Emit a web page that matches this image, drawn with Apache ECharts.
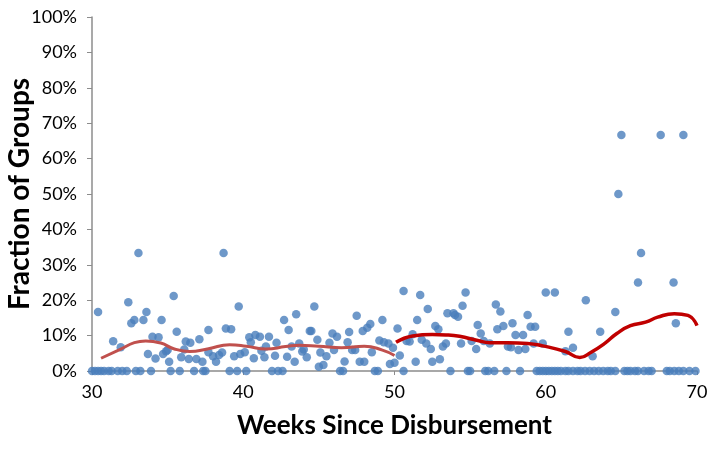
<!DOCTYPE html>
<html>
<head>
<meta charset="utf-8">
<script src="https://cdn.jsdelivr.net/npm/echarts@6/dist/echarts.min.js"></script>
<style>
  html, body { margin: 0; padding: 0; background: #fff; }
  #chart { width: 712px; height: 449px; }
</style>
</head>
<body>
<div id="chart"></div>
<script>
// Weeks since disbursement for groups with a non-zero fraction
const pointWeeks = [
  30.4, 31.4, 31.9, 32.4, 32.6, 32.8, 33.07, 33.4, 33.6, 33.7, 34.0, 34.2, 34.4, 34.6, 34.7, 34.9, 35.0, 35.1,
  35.4, 35.6, 35.9, 36.1, 36.2, 36.4, 36.5, 36.9, 37.1, 37.3, 37.7, 37.7, 38.0, 38.2, 38.4, 38.6, 38.7, 38.85,
  39.2, 39.4, 39.7, 39.8, 40.1, 40.4, 40.5, 40.7, 40.8, 41.1, 41.2, 41.4, 41.5, 41.7, 42.1, 42.2, 42.7, 42.9,
  43.0, 43.2, 43.4, 43.5, 43.7, 43.9, 44.0, 44.2, 44.4, 44.5, 44.7, 44.9, 45.0, 45.1, 45.3, 45.5, 45.7, 45.9,
  46.0, 46.2, 46.7, 46.9, 47.0, 47.2, 47.4, 47.5, 47.7, 47.9, 48.0, 48.2, 48.4, 48.5, 49.0, 49.2, 49.3, 49.6,
  49.7, 49.9, 50.0, 50.2, 50.35, 50.6, 50.8, 51.0, 51.2, 51.4, 51.5, 51.7, 51.8, 52.1, 52.2, 52.4, 52.5, 52.7,
  52.9, 53.0, 53.2, 53.4, 53.5, 53.9, 54.0, 54.2, 54.4, 54.5, 54.7, 55.1, 55.4, 55.5, 55.7, 55.9, 56.3, 56.7,
  56.8, 57.0, 57.2, 57.5, 57.7, 57.8, 58.0, 58.2, 58.5, 58.65, 58.8, 59.0, 59.2, 59.3, 59.8, 60.0, 60.6, 61.3,
  61.5, 61.8, 62.65, 63.1, 63.6, 64.6, 64.8, 65.0, 66.1, 66.3, 67.6, 68.45, 68.6, 69.1
];
// Fraction of groups (%) for each of the weeks above
const pointPct = [
  16.7, 8.4, 6.7, 19.4, 13.5, 14.4, 33.3, 14.4, 16.7, 4.8, 9.7, 3.5, 9.5, 14.4, 4.8, 5.6, 5.9, 2.6,
  21.2, 11.1, 3.9, 6.1, 8.3, 3.4, 8.0, 3.4, 9.0, 2.6, 11.6, 5.3, 4.2, 2.6, 4.5, 5.2, 33.3, 12.0,
  11.8, 4.2, 18.2, 4.8, 5.3, 9.5, 8.1, 3.6, 10.2, 9.7, 5.7, 3.9, 6.9, 9.7, 4.3, 8.0, 14.4, 4.0,
  11.6, 6.9, 2.6, 16.0, 7.8, 5.5, 6.1, 3.9, 11.3, 11.3, 18.2, 8.8, 1.2, 5.2, 1.7, 4.2, 8.0, 10.6,
  5.9, 9.7, 2.7, 8.1, 11.0, 5.9, 5.9, 15.6, 2.6, 11.3, 2.6, 12.2, 13.3, 5.3, 8.6, 14.4, 8.1, 7.8,
  2.0, 6.6, 2.3, 12.0, 4.4, 22.6, 8.5, 8.3, 10.4, 2.6, 14.4, 21.5, 8.8, 7.8, 17.5, 6.2, 2.6, 12.7,
  11.8, 3.3, 6.9, 7.8, 16.3, 16.3, 15.8, 15.3, 7.8, 18.4, 22.2, 8.5, 6.2, 13.0, 10.6, 8.5, 7.8, 18.8,
  11.8, 16.8, 12.7, 6.9, 6.7, 13.5, 10.2, 5.9, 10.2, 6.2, 15.8, 12.5, 7.8, 12.5, 7.8, 22.2, 22.2, 5.6,
  11.1, 6.6, 20.0, 4.2, 11.1, 16.7, 50.0, 66.7, 25.0, 33.3, 66.7, 25.0, 13.5, 66.7
];
// Weeks where the fraction of groups was 0%
const zeroWeeks = [
  30.0, 30.2, 30.4, 30.6, 30.8, 31.1, 31.3, 31.7, 32.0, 32.3, 32.9, 33.2, 33.9, 35.2, 35.8, 36.75, 37.35, 37.5,
  39.1, 39.6, 40.2, 41.9, 42.3, 42.6, 46.4, 46.6, 48.7, 48.9, 50.6, 53.7, 54.85, 55.0, 56.0, 56.2, 56.6, 57.4,
  58.3, 59.4, 59.6, 59.8, 60.0, 60.2, 60.4, 60.6, 60.8, 61.0, 61.3, 61.5, 61.8, 62.1, 62.3, 62.6, 62.9, 63.2,
  63.5, 63.8, 64.1, 64.3, 64.6, 65.2, 65.4, 65.6, 65.9, 66.1, 66.5, 66.8, 67.0, 68.0, 68.2, 68.5, 68.8, 69.1,
  69.5, 69.9
];
// Smoothed trend, weeks 30–50
const trendAWeeks = [30.6, 31.9, 32.8, 33.55, 34.55, 35.4, 36.45, 37.7, 39.1, 40.2, 41.5, 42.8, 43.7, 45.0, 46.5, 48.0, 49.2, 50.0];
const trendAPct   = [3.6, 6.2, 8.0, 8.5, 7.9, 6.3, 5.5, 6.3, 7.4, 7.0, 6.2, 6.9, 7.3, 7.0, 6.6, 7.0, 5.9, 4.4];
// Smoothed trend, weeks 50–70
const trendBWeeks = [50.1, 51.2, 52.5, 53.4, 54.3, 55.5, 56.3, 57.5, 58.8, 59.8, 61.3, 62.25, 63.0, 63.9, 64.7, 65.6, 66.6, 67.4, 68.5, 69.4, 70.0];
const trendBPct   = [8.1, 9.9, 10.3, 10.2, 9.8, 8.6, 8.0, 8.0, 7.8, 7.1, 5.5, 3.8, 5.3, 7.8, 10.6, 12.8, 13.8, 15.2, 16.2, 15.7, 12.8];

const pairs = (xs, ys) => xs.map((x, i) => [x, ys[i]]);
const scatterData = pairs(pointWeeks, pointPct).concat(zeroWeeks.map(w => [w, 0]));

const FONT = 'Lato';
const chart = echarts.init(document.getElementById('chart'), null, { renderer: 'canvas' });
chart.setOption({
  animation: false,
  backgroundColor: '#ffffff',
  grid: { left: 92, right: 15, top: 17, bottom: 78, containLabel: false, outerBoundsMode: 'none' },
  xAxis: {
    type: 'value', min: 30, max: 70, interval: 10,
    name: 'Weeks Since Disbursement', nameLocation: 'middle', nameGap: 42, nameMoveOverlap: false,
    nameTextStyle: { fontFamily: FONT, fontWeight: 'bold', fontSize: 26, color: '#000' },
    axisLine: { onZero: false, lineStyle: { color: '#8c8c8c', width: 1.5 } },
    axisTick: { show: true, inside: false, length: 4, lineStyle: { color: '#8c8c8c' } },
    axisLabel: { fontFamily: FONT, fontSize: 18, color: '#000', margin: 12 },
    splitLine: { show: false }
  },
  yAxis: {
    type: 'value', min: 0, max: 100, interval: 10,
    name: 'Fraction of Groups', nameLocation: 'middle', nameGap: 58, nameRotate: 90, nameMoveOverlap: false,
    nameTextStyle: { fontFamily: FONT, fontWeight: 'bold', fontSize: 28, color: '#000' },
    axisLine: { show: true, lineStyle: { color: '#8c8c8c', width: 1.5 } },
    axisTick: { show: true, inside: false, length: 5, lineStyle: { color: '#8c8c8c' } },
    axisLabel: { fontFamily: FONT, fontSize: 18, color: '#000', margin: 15, formatter: '{value}%' },
    splitLine: { show: false }
  },
  series: [
    {
      type: 'scatter', data: scatterData, symbol: 'circle', symbolSize: 8.5,
      itemStyle: { color: '#4A7EBB' }, z: 2
    },
    {
      type: 'line', data: pairs(trendAWeeks, trendAPct), smooth: 0.5, showSymbol: false,
      lineStyle: { color: '#C0504D', width: 3 }, z: 3
    },
    {
      type: 'line', data: pairs(trendBWeeks, trendBPct), smooth: 0.5, showSymbol: false,
      lineStyle: { color: '#C00000', width: 3.5 }, z: 3
    }
  ]
});
</script>
</body>
</html>
